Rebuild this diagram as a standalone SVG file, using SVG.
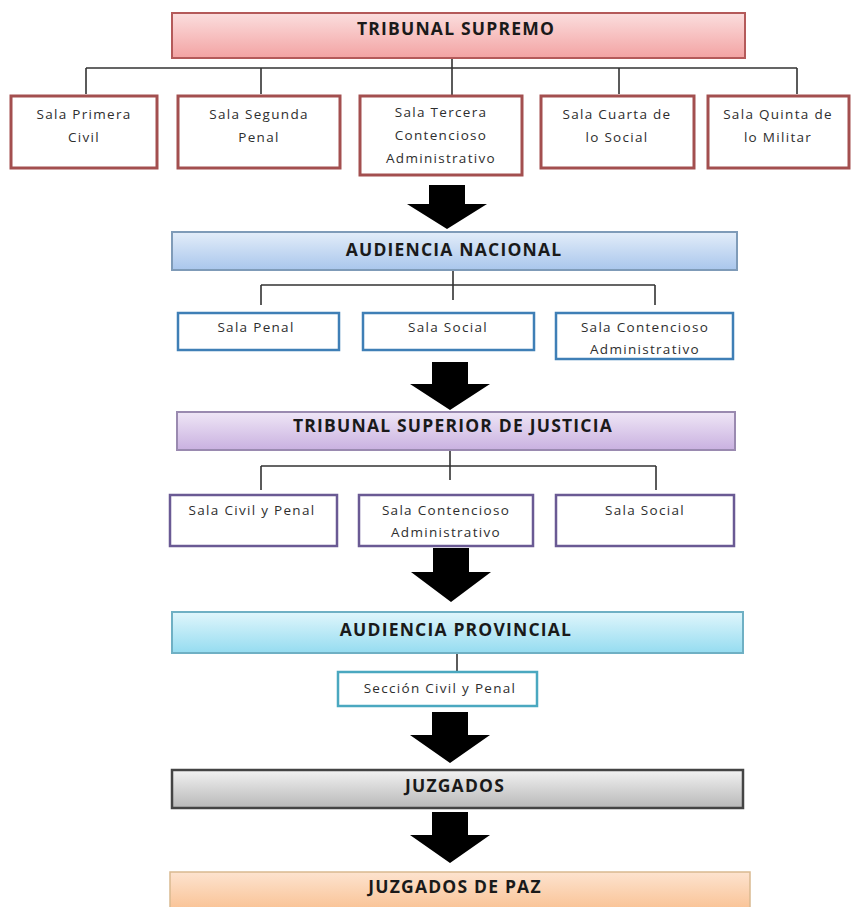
<svg xmlns="http://www.w3.org/2000/svg" width="853" height="907" viewBox="0 0 853 907">
<defs>
<linearGradient id="gRed" x1="0" y1="0" x2="0" y2="1"><stop offset="0" stop-color="#fbdede"/><stop offset="1" stop-color="#f3a3a3"/></linearGradient>
<linearGradient id="gBlue" x1="0" y1="0" x2="0" y2="1"><stop offset="0" stop-color="#e3edf9"/><stop offset="1" stop-color="#a9c6ec"/></linearGradient>
<linearGradient id="gPurple" x1="0" y1="0" x2="0" y2="1"><stop offset="0" stop-color="#efe6f6"/><stop offset="1" stop-color="#c9b1e0"/></linearGradient>
<linearGradient id="gCyan" x1="0" y1="0" x2="0" y2="1"><stop offset="0" stop-color="#e0f6fc"/><stop offset="1" stop-color="#95dcf0"/></linearGradient>
<linearGradient id="gGray" x1="0" y1="0" x2="0" y2="1"><stop offset="0" stop-color="#f2f2f2"/><stop offset="1" stop-color="#b8b8b8"/></linearGradient>
<linearGradient id="gOrange" x1="0" y1="0" x2="0" y2="1"><stop offset="0" stop-color="#fde3cf"/><stop offset="1" stop-color="#f9bf8f"/></linearGradient>
</defs>
<style>
.title{font-family:"Open Sans","Liberation Sans",sans-serif;font-weight:bold;font-size:17.5px;fill:#1a1a1a;text-anchor:middle;letter-spacing:1.2px}
.sub{font-family:"Open Sans","Liberation Sans",sans-serif;font-size:13.5px;fill:#2e2e2e;text-anchor:middle;letter-spacing:1.3px}
.conn{stroke:#333;stroke-width:1.6;fill:none}
.arrow{fill:#000}
.redBox{fill:#fff;stroke:#a34f4f;stroke-width:3}
.blueBox{fill:#fff;stroke:#3f7fb6;stroke-width:2.5}
.purpleBox{fill:#fff;stroke:#6a5a94;stroke-width:2.5}
.tealBox{fill:#fff;stroke:#4aa8c0;stroke-width:2.5}
</style>
<rect width="853" height="907" fill="#ffffff"/>

<g id="connectors">
<path class="conn" d="M86,68 H797 M86,68 V94 M261,68 V94 M452,58 V95 M619,68 V94 M797,68 V94"/>
<path class="conn" d="M453,270 V300 M261,285 H655 M261,285 V305 M655,285 V305"/>
<path class="conn" d="M450,450 V480 M261,466 H656 M261,466 V490 M656,466 V490"/>
<path class="conn" d="M457,653 V671"/>
<path class="arrow" d="M429,185 H465 V204 H487 L447,229 L407,204 H429 Z"/>
<path class="arrow" d="M432,362 H468 V384 H490 L450,410 L410,384 H432 Z"/>
<path class="arrow" d="M433,548 H469 V572 H491 L451,602 L411,572 H433 Z"/>
<path class="arrow" d="M432,712 H468 V735 H490 L450,763 L410,735 H432 Z"/>
<path class="arrow" d="M432,812 H468 V835 H490 L450,863 L410,835 H432 Z"/>
</g>

<g id="tribunal-supremo">
<rect x="172" y="13" width="573" height="45" fill="url(#gRed)" stroke="#b45a5a" stroke-width="2"/>
<text class="title" x="456" y="35">TRIBUNAL SUPREMO</text>
</g>
<g id="sala-primera">
<rect class="redBox" x="11" y="96" width="146" height="72"/>
<text class="sub" x="84" y="119">Sala Primera</text>
<text class="sub" x="84" y="142">Civil</text>
</g>
<g id="sala-segunda">
<rect class="redBox" x="178" y="96" width="162" height="72"/>
<text class="sub" x="259" y="119">Sala Segunda</text>
<text class="sub" x="259" y="142">Penal</text>
</g>
<g id="sala-tercera">
<rect class="redBox" x="360" y="96" width="162" height="79"/>
<text class="sub" x="441" y="117">Sala Tercera</text>
<text class="sub" x="441" y="140">Contencioso</text>
<text class="sub" x="441" y="163">Administrativo</text>
</g>
<g id="sala-cuarta">
<rect class="redBox" x="541" y="96" width="153" height="72"/>
<text class="sub" x="617" y="119">Sala Cuarta de</text>
<text class="sub" x="617" y="142">lo Social</text>
</g>
<g id="sala-quinta">
<rect class="redBox" x="708" y="96" width="141" height="72"/>
<text class="sub" x="778" y="119">Sala Quinta de</text>
<text class="sub" x="778" y="142">lo Militar</text>
</g>

<g id="audiencia-nacional">
<rect x="172" y="232" width="565" height="38" fill="url(#gBlue)" stroke="#7f9bb8" stroke-width="2"/>
<text class="title" x="454" y="256">AUDIENCIA NACIONAL</text>
</g>
<g id="an-sala-penal">
<rect class="blueBox" x="178" y="313" width="161" height="37"/>
<text class="sub" x="256" y="332">Sala Penal</text>
</g>
<g id="an-sala-social">
<rect class="blueBox" x="363" y="313" width="171" height="37"/>
<text class="sub" x="448" y="332">Sala Social</text>
</g>
<g id="an-sala-contencioso">
<rect class="blueBox" x="556" y="313" width="177" height="46"/>
<text class="sub" x="645" y="332">Sala Contencioso</text>
<text class="sub" x="645" y="354">Administrativo</text>
</g>

<g id="tribunal-superior">
<rect x="177" y="412" width="558" height="38" fill="url(#gPurple)" stroke="#9a8ab0" stroke-width="2"/>
<text class="title" x="453" y="432">TRIBUNAL SUPERIOR DE JUSTICIA</text>
</g>
<g id="tsj-sala-civil">
<rect class="purpleBox" x="170" y="495" width="167" height="51"/>
<text class="sub" x="252" y="515">Sala Civil y Penal</text>
</g>
<g id="tsj-sala-contencioso">
<rect class="purpleBox" x="359" y="495" width="174" height="51"/>
<text class="sub" x="446" y="515">Sala Contencioso</text>
<text class="sub" x="446" y="537">Administrativo</text>
</g>
<g id="tsj-sala-social">
<rect class="purpleBox" x="556" y="495" width="178" height="51"/>
<text class="sub" x="645" y="515">Sala Social</text>
</g>

<g id="audiencia-provincial">
<rect x="172" y="612" width="571" height="41" fill="url(#gCyan)" stroke="#6fb0c4" stroke-width="2"/>
<text class="title" x="456" y="636">AUDIENCIA PROVINCIAL</text>
</g>
<g id="seccion-civil-penal">
<rect class="tealBox" x="338" y="672" width="199" height="34"/>
<text class="sub" x="440" y="693">Sección Civil y Penal</text>
</g>

<g id="juzgados">
<rect x="172" y="770" width="571" height="38" fill="url(#gGray)" stroke="#444" stroke-width="2.5"/>
<text class="title" x="455" y="792">JUZGADOS</text>
</g>

<g id="juzgados-de-paz">
<rect x="170" y="872" width="580" height="42" fill="url(#gOrange)" stroke="#d9b990" stroke-width="1.5"/>
<text class="title" x="455" y="893">JUZGADOS DE PAZ</text>
</g>
</svg>
